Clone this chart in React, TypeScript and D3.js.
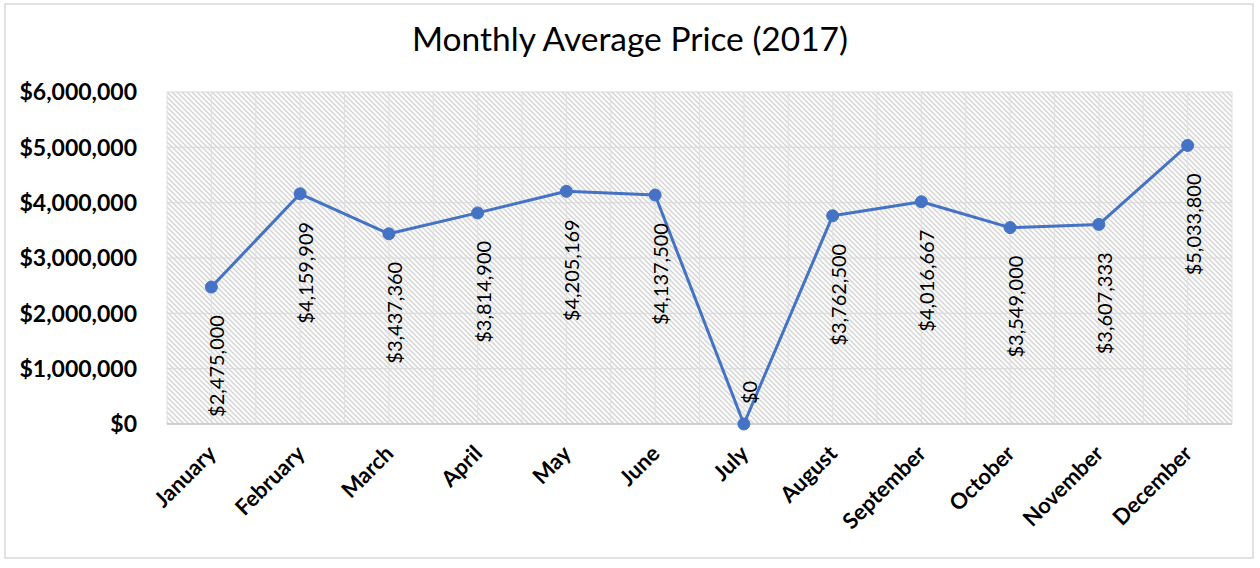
import React from "react";
import * as d3 from "d3";

const months = ["January","February","March","April","May","June","July","August","September","October","November","December"];
const prices = [2475000, 4159909, 3437360, 3814900, 4205169, 4137500, 0, 3762500, 4016667, 3549000, 3607333, 5033800];
const yTicks = [0, 1000000, 2000000, 3000000, 4000000, 5000000, 6000000];
const title = "Monthly Average Price (2017)";

const W = 1260, H = 568;
const left = 167, right = 1232, top = 92, bottom = 424;

export default function App() {
  const x = d3.scaleBand<string>().domain(months).range([left, right]).padding(0);
  const y = d3.scaleLinear().domain([0, 6000000]).range([bottom, top]);
  const bw = x.bandwidth();
  const cx = (m: string) => (x(m) as number) + bw / 2;
  const fmt = (v: number) => "$" + d3.format(",")(v);
  const line = d3.line<number>().x((_, i) => cx(months[i])).y((d) => y(d));
  const font = "Lato, 'Open Sans', sans-serif";

  const vLines: number[] = [];
  months.forEach((m) => { vLines.push(x(m) as number); vLines.push(cx(m)); });
  vLines.push(right);

  return (
    <svg width={W} height={H} style={{ position: "absolute", left: 0, top: 0, background: "#fff" }} fontFamily={font}>
      <defs>
        <pattern id="hatch" width="5" height="5" patternUnits="userSpaceOnUse">
          <rect width="5" height="5" fill="#fbfbfb" />
          <path d="M-1,-1 L6,6 M-1,4 L1,6 M4,-1 L6,1" stroke="#d4d4d4" strokeWidth="1.3" />
        </pattern>
      </defs>
      <rect x={5} y={4} width={1248} height={554} fill="#fff" stroke="#d9d9d9" strokeWidth={1.5} />
      <text x={630} y={51} textAnchor="middle" fontSize={33.5} fill="#000">{title}</text>
      <rect x={left} y={top} width={right - left} height={bottom - top} fill="url(#hatch)" />
      {vLines.map((v, i) => (
        <line key={"v" + i} x1={v} x2={v} y1={top} y2={bottom} stroke="#e0e0e0" strokeWidth={1} />
      ))}
      {yTicks.map((t) => (
        <line key={"h" + t} x1={left} x2={right} y1={y(t)} y2={y(t)} stroke="#d9d9d9" strokeWidth={1} />
      ))}
      <line x1={left} x2={right} y1={bottom} y2={bottom} stroke="#c8c8c8" strokeWidth={1.5} />
      {yTicks.map((t) => (
        <text key={"yt" + t} x={137} y={y(t)} dy="0.36em" textAnchor="end" fontSize={23} fontWeight="bold" fill="#000">{fmt(t)}</text>
      ))}
      {months.map((m) => (
        <text key={"xl" + m} transform={`translate(${cx(m) + 6},${455}) rotate(-45)`} textAnchor="end" fontSize={22} fontWeight="bold" fill="#000">{m}</text>
      ))}
      <path d={line(prices) || ""} fill="none" stroke="#4472c4" strokeWidth={3} strokeLinejoin="round" />
      {prices.map((p, i) => (
        <circle key={"c" + i} cx={cx(months[i])} cy={y(p)} r={6} fill="#4472c4" stroke="#4472c4" strokeWidth={1} />
      ))}
      {prices.map((p, i) => {
        const px = cx(months[i]) + 6;
        const below = p > 0;
        const py = below ? y(p) + 28 : y(p) - 20;
        return (
          <text key={"dl" + i} transform={`translate(${px},${py}) rotate(-90)`} textAnchor={below ? "end" : "start"} dy="0.35em" fontSize={20} fill="#000">{fmt(p)}</text>
        );
      })}
    </svg>
  );
}
